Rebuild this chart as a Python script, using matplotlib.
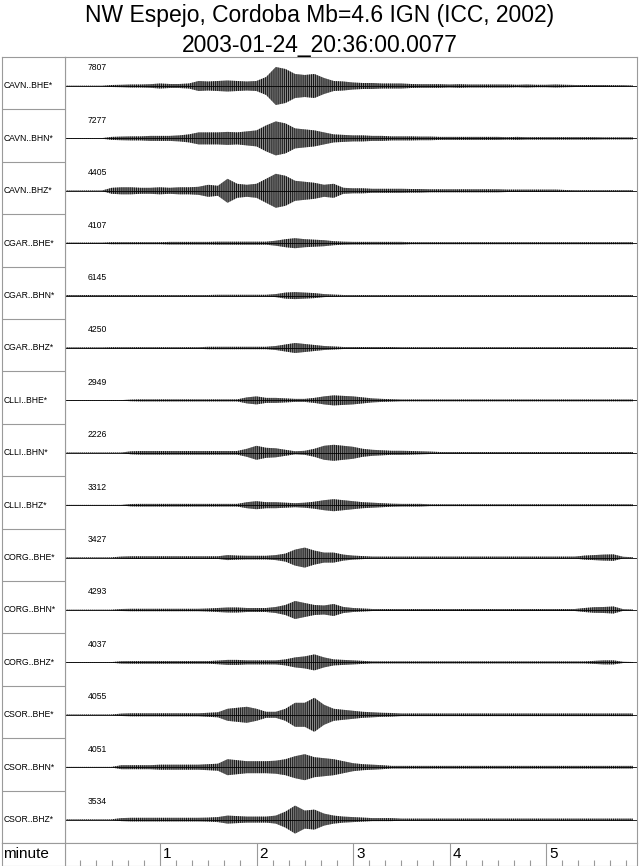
import numpy as np
import matplotlib
matplotlib.use("Agg")
import matplotlib.pyplot as plt
from matplotlib.ticker import MultipleLocator, FixedLocator

plt.rcParams['font.family'] = ['Liberation Sans', 'DejaVu Sans']
plt.rcParams['hatch.linewidth'] = 0.7

# ---------------- data ----------------
title_line1 = "NW Espejo, Cordoba Mb=4.6 IGN (ICC, 2002)"
title_line2 = "2003-01-24_20:36:00.0077"

channels = ["CAVN..BHE*", "CAVN..BHN*", "CAVN..BHZ*",
            "CGAR..BHE*", "CGAR..BHN*", "CGAR..BHZ*",
            "CLLI..BHE*", "CLLI..BHN*", "CLLI..BHZ*",
            "CORG..BHE*", "CORG..BHN*", "CORG..BHZ*",
            "CSOR..BHE*", "CSOR..BHN*", "CSOR..BHZ*"]

max_counts = [7807, 7277, 4405, 4107, 6145, 4250, 2949, 2226, 3312,
              3427, 4293, 4037, 4055, 4051, 3534]

# sample times of the envelope readings (minutes)
time_min = [0.0, 0.1, 0.2, 0.3, 0.4, 0.5, 0.6, 0.7, 0.8, 0.9,
            1.0, 1.1, 1.2, 1.3, 1.4, 1.5, 1.6, 1.7, 1.8, 1.9,
            2.0, 2.1, 2.2, 2.3, 2.4, 2.5, 2.6, 2.7, 2.8, 2.9,
            3.0, 3.1, 3.2, 3.3, 3.4, 3.5, 3.6, 3.7, 3.8, 3.9,
            4.0, 4.1, 4.2, 4.3, 4.4, 4.5, 4.6, 4.7, 4.8, 4.9,
            5.0, 5.1, 5.2, 5.3, 5.4, 5.5, 5.6, 5.7, 5.8, 5.9]

# half-amplitude envelopes (trace deflection units)
env_cavn_bhe = [0.3, 0.3, 0.3, 0.3, 0.3, 1.0, 1.2, 1.5, 1.5, 1.8,
                2.5, 2.0, 2.0, 2.5, 5.0, 4.5, 5.0, 5.5, 5.0, 4.5,
                5.0, 9.0, 19, 17, 12, 11, 12, 8, 5, 4.5,
                3.5, 3, 3, 2.5, 2.5, 2.5, 2, 1.8, 1.8, 1.8,
                1.5, 1.8, 1.5, 1.5, 1.5, 1.5, 1.5, 1.2, 1.5, 1.2,
                1.2, 1.5, 1.2, 1.0, 1.0, 1.0, 1.0, 0.8, 0.8, 0.5]
env_cavn_bhn = [0.3, 0.3, 0.3, 0.3, 0.3, 1.5, 1.8, 2, 2, 2.5,
                2.5, 2.5, 3, 4, 6, 6, 6, 6.5, 6, 7,
                8, 13, 17, 15, 10, 9, 8, 6, 4, 3.5,
                3, 3, 2.5, 2.5, 2, 2, 2, 1.8, 1.8, 1.5,
                1.5, 1.5, 1.5, 1.5, 1.5, 1.5, 1.2, 1.5, 1.2, 1.2,
                1.2, 1.2, 1.2, 1.2, 1.2, 1.2, 1.0, 1.0, 1.0, 1.0]
env_cavn_bhz = [0.3, 0.3, 0.3, 0.3, 0.3, 3, 3.5, 3.5, 3, 3,
                3.5, 3, 3.5, 3.5, 4, 6, 5, 12, 7, 6,
                7, 12, 17, 15, 10, 9, 8, 6, 7, 3,
                2.5, 2.5, 2, 2, 2, 2, 1.8, 1.8, 1.5, 1.5,
                1.5, 1.5, 1.5, 1.5, 1.5, 1.5, 1.2, 1.2, 1.2, 1.2,
                1.2, 1.2, 0.8, 0.6, 0.6, 0.6, 0.6, 0.6, 0.6, 0.6]
env_cgar_bhe = [0.6, 0.6, 0.6, 0.6, 0.6, 1.0, 1.0, 1.0, 1.0, 1.0,
                1.0, 1.3, 1.3, 1.3, 1.3, 1.3, 1.5, 1.5, 1.5, 1.5,
                1.5, 1.5, 2.5, 4, 5, 4, 3.5, 3, 2, 1.5,
                1.3, 1.3, 1.3, 1.3, 1.3, 1.3, 1.0, 1.0, 1.0, 1.0,
                1.0, 1.0, 1.0, 1.0, 1.0, 1.0, 1.0, 1.0, 1.0, 1.0,
                1.0, 1.0, 1.0, 1.0, 1.0, 1.0, 1.0, 1.0, 1.0, 1.0]
env_cgar_bhn = [0.6, 0.6, 0.6, 0.6, 0.6, 0.6, 0.6, 0.6, 0.6, 0.6,
                0.6, 0.6, 0.6, 0.6, 0.6, 0.6, 0.8, 0.8, 0.8, 0.8,
                0.8, 0.8, 1.5, 3, 3.5, 3, 2.5, 1.5, 1.0, 0.6,
                0.6, 0.6, 0.6, 0.6, 0.6, 0.6, 0.6, 0.6, 0.6, 0.6,
                0.6, 0.6, 0.6, 0.6, 0.6, 0.6, 0.6, 0.6, 0.6, 0.6,
                0.6, 0.6, 0.6, 0.6, 0.6, 0.6, 0.6, 0.6, 0.6, 0.6]
env_cgar_bhz = [0.6, 0.6, 0.6, 0.6, 0.6, 0.8, 0.8, 0.8, 0.8, 0.8,
                0.8, 0.8, 0.8, 0.8, 0.8, 1.2, 1.2, 1.2, 1.2, 1.2,
                1.2, 1.2, 2, 3.5, 5, 4, 3, 2, 1.5, 1.0,
                1.0, 1.0, 1.0, 1.0, 1.0, 0.8, 0.8, 0.8, 0.8, 0.8,
                0.8, 0.8, 0.8, 0.8, 0.8, 0.8, 0.8, 0.8, 0.8, 0.8,
                0.8, 0.8, 0.8, 0.8, 0.8, 0.8, 0.8, 0.8, 0.8, 0.8]
env_clli_bhe = [0.3, 0.3, 0.3, 0.3, 0.3, 0.3, 0.3, 0.8, 1.0, 1.0,
                1.0, 1.0, 1.0, 1.0, 1.0, 1.0, 1.0, 1.0, 1.0, 3,
                4, 2.5, 2.5, 2, 1.5, 1.5, 2.5, 4, 5, 4.5,
                4, 3, 2, 1.5, 1.2, 0.9, 0.9, 0.9, 0.9, 0.9,
                0.9, 0.9, 0.9, 0.9, 0.9, 0.9, 0.9, 0.9, 0.9, 0.9,
                0.9, 0.9, 0.9, 0.9, 0.9, 0.9, 0.9, 0.9, 0.9, 0.9]
env_clli_bhn = [0.3, 0.3, 0.3, 0.3, 0.3, 0.3, 0.3, 1.5, 1.8, 1.8,
                1.8, 1.8, 1.8, 1.8, 1.8, 1.8, 1.8, 1.8, 1.8, 4,
                7, 5, 4.5, 3, 1.5, 2, 4, 7, 8, 7,
                6, 4, 3, 2.5, 2, 2, 1.8, 1.5, 1.2, 0.8,
                0.8, 0.8, 0.8, 0.8, 0.8, 0.8, 0.8, 0.8, 0.8, 0.8,
                0.8, 0.8, 0.8, 0.8, 0.8, 0.8, 0.8, 0.8, 0.8, 0.8]
env_clli_bhz = [0.3, 0.3, 0.3, 0.3, 0.3, 0.3, 0.3, 1.2, 1.3, 1.3,
                1.3, 1.3, 1.3, 1.3, 1.3, 1.3, 1.3, 1.3, 1.3, 3,
                4, 3, 3, 2.5, 2, 2.5, 3.5, 5, 6, 5,
                4, 3, 2.5, 2, 1.5, 1.3, 1.3, 1.3, 0.9, 0.9,
                0.9, 0.9, 0.9, 0.9, 0.9, 0.9, 0.9, 0.9, 0.9, 0.9,
                0.9, 0.9, 0.9, 0.9, 0.9, 0.9, 0.9, 0.9, 0.9, 0.9]
env_corg_bhe = [0.3, 0.3, 0.3, 0.3, 0.3, 0.3, 1.0, 1.3, 1.3, 1.3,
                1.3, 1.3, 1.3, 1.3, 1.3, 1.3, 1.3, 2.5, 2, 1.8,
                1.8, 1.8, 2.5, 4, 8, 10, 7, 5, 5, 3,
                2, 1.5, 1.0, 1.0, 1.0, 1.0, 1.0, 1.0, 1.0, 1.0,
                1.0, 1.0, 1.0, 1.0, 1.0, 1.0, 1.0, 1.0, 1.0, 1.0,
                1.0, 1.0, 1.0, 1.0, 2, 2.5, 3, 3.2, 0.8, 0.4]
env_corg_bhn = [0.3, 0.3, 0.3, 0.3, 0.3, 0.3, 1.0, 1.2, 1.2, 1.2,
                1.2, 1.2, 1.2, 1.2, 1.2, 1.5, 2, 2.5, 2.5, 2,
                2, 2, 3, 5, 9, 7, 5, 4.5, 6, 3,
                2, 1.5, 1.0, 1.0, 1.0, 1.0, 1.0, 1.0, 1.0, 1.0,
                1.0, 1.0, 1.0, 1.0, 1.0, 1.0, 1.0, 1.0, 1.0, 1.0,
                1.0, 1.0, 1.0, 1.0, 2, 2.8, 3, 3.5, 0.8, 0.5]
env_corg_bhz = [0.3, 0.3, 0.3, 0.3, 0.3, 0.3, 1.2, 1.3, 1.3, 1.3,
                1.3, 1.3, 1.3, 1.3, 1.3, 1.3, 1.8, 2.5, 2.5, 2,
                2, 2, 2, 3, 5, 6, 8, 5, 3, 2.5,
                2, 1.5, 1.0, 1.0, 1.0, 1.0, 1.0, 1.0, 1.0, 1.0,
                1.0, 1.0, 1.0, 1.0, 1.0, 1.0, 1.0, 1.0, 1.0, 1.0,
                1.0, 1.0, 1.0, 1.0, 1.0, 1.5, 2, 2, 0.6, 0.4]
env_csor_bhe = [0.3, 0.3, 0.3, 0.3, 0.3, 0.3, 1.2, 1.5, 1.5, 1.5,
                1.5, 1.5, 1.5, 1.5, 1.5, 2, 2.5, 6, 7, 8,
                6, 3, 3, 6, 12, 12, 17, 10, 6, 5,
                4, 3, 2.5, 2, 1.8, 1.3, 1.3, 1.3, 1.3, 1.3,
                1.3, 1.3, 1.3, 1.3, 1.3, 1.3, 1.3, 1.3, 1.3, 1.3,
                1.3, 1.3, 1.3, 1.3, 1.3, 1.3, 1.3, 1.3, 1.3, 1.3]
env_csor_bhn = [0.3, 0.3, 0.3, 0.3, 0.3, 0.3, 2, 2, 2, 2,
                2.5, 2.5, 2.5, 2.5, 2.5, 3, 3.5, 8, 7, 6,
                6, 6, 6.5, 8, 11, 13, 10, 9, 8, 6,
                4, 3, 2.5, 2, 1.3, 1.3, 1.3, 1.3, 1.3, 1.3,
                1.3, 1.3, 1.3, 1.3, 1.3, 1.3, 1.3, 1.3, 1.3, 1.3,
                1.3, 1.3, 1.3, 1.3, 1.3, 1.3, 1.3, 1.3, 1.3, 1.3]
env_csor_bhz = [0.3, 0.3, 0.3, 0.3, 0.3, 0.3, 1.5, 1.8, 1.8, 1.8,
                1.8, 1.8, 1.8, 1.8, 1.8, 2, 2.5, 4, 3.5, 3,
                3, 3, 4, 8, 14, 9, 10, 6, 4, 3,
                2.5, 2, 1.5, 1.5, 1.5, 1.0, 1.0, 1.0, 1.0, 1.0,
                1.0, 1.0, 1.0, 1.0, 1.0, 1.0, 1.0, 1.0, 1.0, 1.0,
                1.0, 1.0, 1.0, 1.0, 1.0, 1.0, 1.0, 1.0, 1.0, 1.0]

envelopes = [env_cavn_bhe, env_cavn_bhn, env_cavn_bhz,
             env_cgar_bhe, env_cgar_bhn, env_cgar_bhz,
             env_clli_bhe, env_clli_bhn, env_clli_bhz,
             env_corg_bhe, env_corg_bhn, env_corg_bhz,
             env_csor_bhe, env_csor_bhn, env_csor_bhz]

axis_label = "minute"
major_ticks = [1, 2, 3, 4, 5]
major_tick_labels = ["1", "2", "3", "4", "5"]

# ---------------- layout ----------------
W, H = 640, 866
fig = plt.figure(figsize=(W / 100, H / 100), dpi=100)
GRAY = '#9a9a9a'

def ax_px(x0, y0, x1, y1):
    return fig.add_axes([x0 / W, 1 - y1 / H, (x1 - x0) / W, (y1 - y0) / H])

T0_PX, PX_PER_MIN = 63.5, 96.5
LEFT, RIGHT, TOP, BOT = 65, 637, 57, 843
ROW_PX = (BOT - TOP) / len(channels)
xlim = ((LEFT - T0_PX) / PX_PER_MIN, (RIGHT - T0_PX) / PX_PER_MIN)
base_off = 29 / ROW_PX

# title
fig.text(0.5, 1 - 22 / H, title_line1, ha='center', va='baseline', fontsize=16.5)
fig.text(0.5, 1 - 52 / H, title_line2, ha='center', va='baseline', fontsize=16.5)

# trace panel
ax = ax_px(LEFT, TOP, RIGHT, BOT)
ax.set_xlim(*xlim)
ax.set_ylim(len(channels), 0)
ax.set_xticks([]); ax.set_yticks([])
for s in ax.spines.values():
    s.set_color(GRAY); s.set_linewidth(0.8)
t = np.array(time_min)
for i, (env, amp) in enumerate(zip(envelopes, max_counts)):
    base = i + base_off
    e = np.array(env) / ROW_PX
    ax.axhline(base, color='black', lw=0.6)
    ax.fill_between(t, base - e, base + e, facecolor='#8c8c8c',
                    edgecolor='#111111', hatch='||||||||', lw=0)
    ax.text((88 - T0_PX) / PX_PER_MIN, i + 11 / ROW_PX, str(amp),
            ha='left', va='center', fontsize=6.2)

# label column
lab = ax_px(2, TOP, LEFT, BOT)
lab.set_xlim(0, 1); lab.set_ylim(len(channels), 0)
lab.set_xticks([]); lab.set_yticks([])
for s in lab.spines.values():
    s.set_color(GRAY); s.set_linewidth(0.8)
lab.hlines(np.arange(1, len(channels)), 0, 1, color=GRAY, lw=0.8)
for i, name in enumerate(channels):
    lab.text(0.03, i + base_off, name, ha='left', va='center', fontsize=6.2)

# bottom time axis
bx = ax_px(LEFT, BOT, RIGHT, H)
bx.set_xlim(*xlim); bx.set_ylim(0, 1)
bx.set_yticks([])
bx.xaxis.set_major_locator(FixedLocator(major_ticks))
bx.xaxis.set_minor_locator(MultipleLocator(1 / 6))
bx.tick_params(axis='x', which='major', direction='in', length=(H - BOT) * 0.72,
               color=GRAY, width=0.8, labelbottom=False)
bx.tick_params(axis='x', which='minor', direction='in', length=4,
               color=GRAY, width=0.8)
for s in bx.spines.values():
    s.set_color(GRAY); s.set_linewidth(0.8)
for m, lbl in zip(major_ticks, major_tick_labels):
    bx.text(m + 3 / PX_PER_MIN, 0.5, lbl, ha='left', va='center', fontsize=11)

mx = ax_px(2, BOT, LEFT, H)
mx.set_xticks([]); mx.set_yticks([])
for s in mx.spines.values():
    s.set_color(GRAY); s.set_linewidth(0.8)
mx.text(0.02, 0.5, axis_label, ha='left', va='center', fontsize=11,
        transform=mx.transAxes)

fig.savefig("out.png", dpi=100)
